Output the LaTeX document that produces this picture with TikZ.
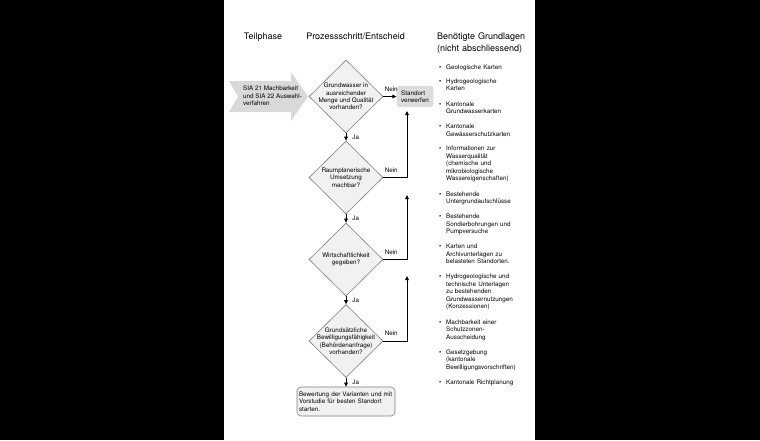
\documentclass[tikz,border=0pt]{standalone}
\usepackage{fontspec}
\setmainfont{TeX Gyre Heros}
\usepackage{tikz}
\usetikzlibrary{shapes.geometric,arrows.meta,positioning}

\definecolor{rautefill}{HTML}{F1F1F1}
\definecolor{rauterand}{HTML}{7F7F7F}
\definecolor{kasten}{HTML}{DCDCDC}
\definecolor{pfeilgrau}{HTML}{D9D9D9}

\newcommand{\punkt}{\leavevmode\llap{\textbullet\hspace{5pt}}}

\begin{document}
\begin{tikzpicture}[
    x=1pt, y=-1pt,
    small/.style={font=\fontsize{6.3pt}{7.4pt}\selectfont},
    title/.style={font=\fontsize{9pt}{12pt}\selectfont, inner sep=0pt},
    decision/.style={shape=diamond, draw=rauterand, fill=rautefill, line width=0.6pt, minimum width=74pt, minimum height=73pt, inner sep=0pt},
    dtext/.style={small, align=center, inner sep=0pt},
    result/.style={shape=rectangle, rounded corners=4pt, draw=rauterand, fill=rautefill, line width=0.6pt, small, align=left, text width=94pt, minimum height=29pt, inner xsep=2pt, inner ysep=3pt},
    reject/.style={rounded corners=3pt, fill=kasten, small, align=left, minimum height=20pt, inner sep=4.5pt},
    grundlage/.style={small, anchor=base west, text width=92pt, align=left, inner sep=0pt},
    edge/.style={-{Triangle[length=4pt, width=3.6pt]}, line width=0.9pt},
    ja/.style={small, right=5pt, inner sep=1pt},
    nein/.style={small, above right, inner sep=1pt, yshift=3.5pt}
]
    \useasboundingbox (0,0) rectangle (760,440);
    \fill[black] (0,0) rectangle (760,440);
    \fill[white] (224,0) rectangle (535,440);

    % Spaltentitel
    \node[title, anchor=base] (teil) at (263,39) {Teilphase};
    \node[title, anchor=base] (prozess) at (355.5,39) {Prozessschritt/Entscheid};
    \node[title, anchor=base west, text width=110pt, align=left] (grund) at (437,39) {Benötigte Grundlagen\\(nicht abschliessend)};

    % Teilphase
    \fill[pfeilgrau] (229,81) -- (291,81) -- (291,72) -- (308,96.5) -- (291,121) -- (291,112) -- (229,112) -- (238,96.5) -- cycle;
    \node[small, align=left, anchor=west, inner sep=0pt] (sia) at (243,95.7) {SIA 21 Machbarkeit\\und SIA 22 Auswahl-\\verfahren};

    % Entscheide
    \node[decision] (grundw) at (346,96.5) {};
    \node[dtext] (grundw-t) at (grundw.center) {Grundwasser in\\ausreichender\\Menge und Qualität\\vorhanden?};
    \node[decision] (raum) at (346,177.5) {};
    \node[dtext] (raum-t) at (raum.center) {Raumplanerische\\Umsetzung\\machbar?};
    \node[decision] (wirt) at (346,259.5) {};
    \node[dtext] (wirt-t) at (wirt.center) {Wirtschaftlichkeit\\gegeben?};
    \node[decision] (bewill) at (346,341) {};
    \node[dtext] (bewill-t) at (bewill.center) {Grundsätzliche\\Bewilligungsfähigkeit\\(Behördenanfrage)\\vorhanden?};

    \node[reject] (verwerfen) at (415,96.5) {Standort\\verwerfen};
    \node[result] (bewertung) at (346,401.5) {Bewertung der Varianten und mit\\Vorstudie für besten Standort\\starten.};

    % Grundlagen
    \node[grundlage] (g1) at (446,69) {\punkt Geologische Karten};
    \node[grundlage] (g2) at (446,83.2) {\punkt Hydrogeologische\\Karten};
    \node[grundlage] (g3) at (446,106.2) {\punkt Kantonale\\Grundwasserkarten};
    \node[grundlage] (g4) at (446,128.9) {\punkt Kantonale\\Gewässerschutzkarten};
    \node[grundlage] (g5) at (446,150.9) {\punkt Informationen zur\\Wasserqualität\\(chemische und\\mikrobiologische\\Wassereigenschaften)};
    \node[grundlage] (g6) at (446,196.2) {\punkt Bestehende\\Untergrundaufschlüsse};
    \node[grundlage] (g7) at (446,218.9) {\punkt Bestehende\\Sondierbohrungen und\\Pumpversuche};
    \node[grundlage] (g8) at (446,248.9) {\punkt Karten und\\Archivunterlagen zu\\belasteten Standorten.};
    \node[grundlage] (g9) at (446,278.9) {\punkt Hydrogeologische und\\technische Unterlagen\\zu bestehenden\\Grundwassernutzungen\\(Konzessionen)};
    \node[grundlage] (g10) at (446,324.5) {\punkt Machbarkeit einer\\Schutzzonen-\\Ausscheidung};
    \node[grundlage] (g11) at (446,354.5) {\punkt Gesetzgebung\\(kantonale\\Bewilligungsvorschriften)};
    \node[grundlage] (g12) at (446,384.5) {\punkt Kantonale Richtplanung};

    % Verbindungen
    \coordinate (ziel2) at (407,111);
    \coordinate (ziel3) at (407,195);
    \coordinate (ziel4) at (407,276);

    \draw[edge] (grundw) -- node[ja]{Ja} (raum);
    \draw[edge] (raum) -- node[ja]{Ja} (wirt);
    \draw[edge] (wirt) -- node[ja]{Ja} (bewill);
    \draw[edge] (bewill) -- node[ja]{Ja} (bewertung);

    \draw[edge] (grundw.east) node[nein]{Nein} -- (verwerfen.west);
    \draw[edge] (raum.east) node[nein]{Nein} -| (ziel2);
    \draw[edge] (wirt.east) node[nein]{Nein} -| (ziel3);
    \draw[edge] (bewill.east) node[nein]{Nein} -| (ziel4);

\end{tikzpicture}
\end{document}
